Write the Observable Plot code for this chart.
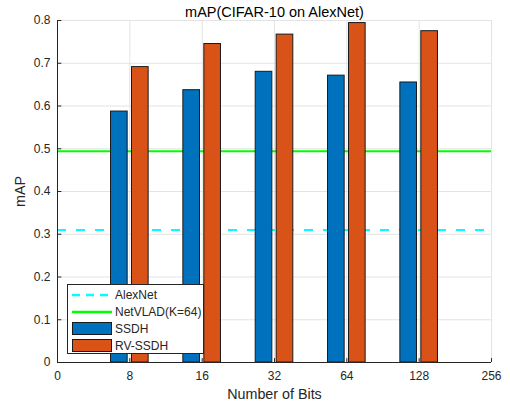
<!DOCTYPE html>
<html>
<head>
<meta charset="utf-8">
<script src="https://cdn.jsdelivr.net/npm/d3@7"></script>
<script src="https://cdn.jsdelivr.net/npm/@observablehq/plot@0.6"></script>
<style>
  body { margin: 0; background: #fff; font-family: "Liberation Sans", Arial, sans-serif; }
  #wrap { position: relative; width: 510px; height: 410px; }
  #legend { position: absolute; left: 67px; top: 284px; width: 137px; height: 70px; background: #fff; border: 1px solid #262626; box-sizing: border-box; font-size: 12px; color: #262626; }
  .row { position: absolute; left: 4px; height: 17px; display: flex; align-items: center; }
  .row span { margin-left: 3px; }
</style>
</head>
<body>
<div id="wrap"></div>
<script>
const bits = ["0", "8", "16", "32", "64", "128", "256"];
const barBits = ["8", "16", "32", "64", "128"];
const ssdh = [0.587, 0.637, 0.680, 0.671, 0.655];
const rvssdh = [0.691, 0.745, 0.767, 0.794, 0.775];
const alexnet = 0.31;
const netvlad = 0.494;
const seriesNames = ["AlexNet", "NetVLAD(K=64)", "SSDH", "RV-SSDH"];
const colors = { AlexNet: "#00ffff", "NetVLAD(K=64)": "#00ff00", SSDH: "#0072bd", "RV-SSDH": "#d95319" };

const pos = (b) => bits.indexOf(b);
const bars = [];
barBits.forEach((b, i) => {
  bars.push({ series: "SSDH", x1: pos(b) - 0.26, x2: pos(b) - 0.03, v: ssdh[i] });
  bars.push({ series: "RV-SSDH", x1: pos(b) + 0.03, x2: pos(b) + 0.26, v: rvssdh[i] });
});
const xt = d3.range(bits.length);
const yt = d3.range(0, 0.81, 0.1).map(v => +v.toFixed(1));

const chart = Plot.plot({
  width: 510, height: 410,
  marginLeft: 57, marginRight: 19, marginTop: 20, marginBottom: 48,
  style: { fontFamily: "Liberation Sans, Arial, sans-serif", fontSize: "12px", color: "#262626", background: "#fff" },
  x: { domain: [0, 6] },
  y: { domain: [0, 0.8] },
  marks: [
    Plot.ruleX(xt, { stroke: "#e3e3e3", strokeWidth: 1 }),
    Plot.ruleY(yt, { stroke: "#e3e3e3", strokeWidth: 1 }),
    Plot.ruleY([alexnet], { x1: 0, x2: 6, stroke: colors.AlexNet, strokeWidth: 2.2, strokeDasharray: "9,10" }),
    Plot.ruleY([netvlad], { x1: 0, x2: 6, stroke: colors["NetVLAD(K=64)"], strokeWidth: 2 }),
    Plot.rectY(bars, { x1: "x1", x2: "x2", y1: 0, y2: "v", fill: d => colors[d.series], stroke: "#1a1a1a", strokeWidth: 1 }),
    Plot.ruleX([0], { stroke: "#262626" }),
    Plot.ruleY([0], { stroke: "#262626" }),
    Plot.ruleY(yt, { x1: 0, x2: 0.06, stroke: "#262626" }),
    Plot.ruleX(xt, { y1: 0, y2: 0.009, stroke: "#262626" }),
    Plot.axisY(yt, { tickSize: 0, tickPadding: 7, tickFormat: d => d === 0 ? "0" : d.toFixed(1), fontSize: 12, label: "mAP", labelAnchor: "center", labelArrow: "none", labelOffset: 43 }),
    Plot.axisX(xt, { tickSize: 0, tickPadding: 9, tickFormat: i => bits[i], fontSize: 12, label: "Number of Bits", labelAnchor: "center", labelArrow: "none", labelOffset: 36 }),
    Plot.text(["mAP(CIFAR-10 on AlexNet)"], { frameAnchor: "top", dy: -14, fontSize: 14.5, fill: "#000" })
  ]
});
const wrap = document.getElementById("wrap");
wrap.appendChild(chart);
chart.querySelectorAll('[aria-label="y-axis label"] text, [aria-label="x-axis label"] text').forEach(t => t.style.fontSize = "14.3px");

const legend = document.createElement("div");
legend.id = "legend";
seriesNames.forEach((name, i) => {
  const row = document.createElement("div");
  row.className = "row";
  row.style.top = (1 + i * 17) + "px";
  let sw;
  if (name === "AlexNet") {
    sw = `<svg width="40" height="12"><line x1="0" x2="40" y1="6" y2="6" stroke="${colors[name]}" stroke-width="2.5" stroke-dasharray="8,6"/></svg>`;
  } else if (name === "NetVLAD(K=64)") {
    sw = `<svg width="40" height="12"><line x1="0" x2="40" y1="6" y2="6" stroke="${colors[name]}" stroke-width="2.5"/></svg>`;
  } else {
    sw = `<svg width="40" height="13"><rect x="0.5" y="0.5" width="39" height="12" fill="${colors[name]}" stroke="#1a1a1a"/></svg>`;
  }
  row.innerHTML = sw + `<span>${name}</span>`;
  legend.appendChild(row);
});
wrap.appendChild(legend);
</script>
</body>
</html>
